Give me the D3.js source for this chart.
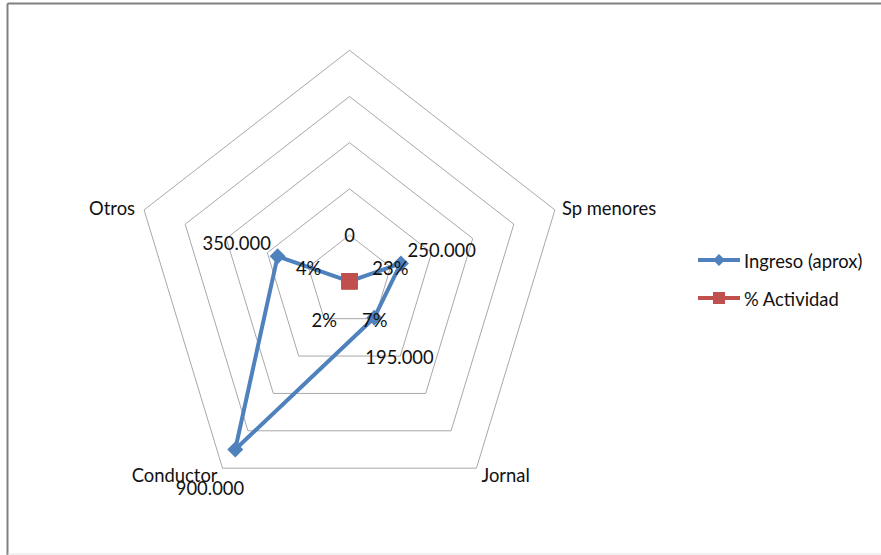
<!DOCTYPE html>
<html>
<head>
<meta charset="utf-8">
<script src="https://cdn.jsdelivr.net/npm/d3@7"></script>
<style>
  html, body { margin: 0; padding: 0; background: #fff; }
  svg { display: block; }
  text { font-family: Lato, "Open Sans", sans-serif; fill: #111; }
</style>
</head>
<body>
<script>
// Radar chart: income per activity and share of activity
const categories = ["", "Sp menores", "Jornal", "Conductor", "Otros"];
const ingreso = [0, 250000, 195000, 900000, 350000];
const ingresoLabels = ["0", "250.000", "195.000", "900.000", "350.000"];
const actividad = [0, 0.23, 0.07, 0.02, 0.04];
const actividadLabels = ["", "23%", "7%", "2%", "4%"];
const ringTicks = [200000, 400000, 600000, 800000, 1000000];
const seriesNames = ["Ingreso (aprox)", "% Actividad"];
const seriesColors = ["#4F81BD", "#C0504D"];

const W = 881, H = 555;
const cx = 349.5, cy = 281.3, rx = 216, ry = 231;
const fontSize = 18.4;

const svg = d3.select("body").append("svg")
  .attr("width", W).attr("height", H);

// text helper: slightly tall glyphs, positioned by transform
function addText(x, y, str, anchor) {
  return svg.append("text")
    .attr("transform", `translate(${x},${y}) scale(1,1.07)`)
    .attr("text-anchor", anchor || "start")
    .attr("dominant-baseline", "central")
    .attr("font-size", fontSize)
    .text(str);
}

// chart frame (right edge runs off the page)
svg.append("line").attr("x1", 7.5).attr("y1", 3.5).attr("x2", W + 5).attr("y2", 3.5)
  .attr("stroke", "#808080").attr("stroke-width", 2);
svg.append("line").attr("x1", 7.5).attr("y1", 3.5).attr("x2", 7.5).attr("y2", H + 5)
  .attr("stroke", "#808080").attr("stroke-width", 2);
svg.append("line").attr("x1", 7.5).attr("y1", 554).attr("x2", W + 5).attr("y2", 554)
  .attr("stroke", "#e4e4e4").attr("stroke-width", 1);

const r = d3.scaleLinear().domain([0, 1000000]).range([0, 1]);
const angle = d3.scalePoint().domain(d3.range(categories.length))
  .range([0, 2 * Math.PI * (categories.length - 1) / categories.length]);

const dir = i => [Math.sin(angle(i)), -Math.cos(angle(i))];
const pos = (i, v) => {
  const [ux, uy] = dir(i);
  const k = r(v);
  return [cx + ux * rx * k, cy + uy * ry * k];
};

const line = d3.line();

// grid rings
const grid = svg.append("g");
ringTicks.forEach(t => {
  const pts = categories.map((c, i) => pos(i, t));
  grid.append("path")
    .attr("d", line(pts) + "Z")
    .attr("fill", "none")
    .attr("stroke", "#a8a8a8")
    .attr("stroke-width", 1);
});

// category labels at the outer ring
const outer = r.domain()[1];
categories.forEach((c, i) => {
  if (!c) return;
  const [vx, vy] = pos(i, outer);
  const [ux, uy] = dir(i);
  const right = ux > 0;
  const lower = uy > 0;
  addText(vx + (right ? (lower ? 5 : 7) : (lower ? -5 : -9)),
          vy + (lower ? 6 : -3),
          c, right ? "start" : "end");
});

// series
const series = [
  { values: ingreso, labels: ingresoLabels, color: seriesColors[0], marker: "diamond" },
  { values: actividad, labels: actividadLabels, color: seriesColors[1], marker: "square" }
];

function drawMarker(g, x, y, type, color, s) {
  if (type === "diamond") {
    g.append("path")
      .attr("d", `M${x},${y - s}L${x + s},${y}L${x},${y + s}L${x - s},${y}Z`)
      .attr("fill", color);
  } else {
    g.append("rect")
      .attr("x", x - s).attr("y", y - s)
      .attr("width", 2 * s).attr("height", 2 * s)
      .attr("fill", color);
  }
}

series.forEach(s => {
  const g = svg.append("g");
  const pts = s.values.map((v, i) => pos(i, v));
  g.append("path")
    .attr("d", line(pts) + "Z")
    .attr("fill", "none")
    .attr("stroke", s.color)
    .attr("stroke-width", 4)
    .attr("stroke-linejoin", "round");
  pts.forEach(([x, y]) => drawMarker(g, x, y, s.marker, s.color, 8));
});

// data labels, pushed outward along each spoke
series.forEach(s => {
  s.values.forEach((v, i) => {
    if (!s.labels[i]) return;
    const [x, y] = pos(i, v);
    const [ux, uy] = dir(i);
    addText(x + ux * 43, y + uy * 47, s.labels[i], "middle");
  });
});

// legend
const legend = svg.append("g");
series.forEach((s, k) => {
  const y = 260 + k * 38;
  legend.append("line")
    .attr("x1", 698).attr("x2", 740).attr("y1", y).attr("y2", y)
    .attr("stroke", s.color).attr("stroke-width", 4);
  drawMarker(legend, 719, y, s.marker, s.color, 6);
  addText(744, y, seriesNames[k], "start");
});
</script>
</body>
</html>
